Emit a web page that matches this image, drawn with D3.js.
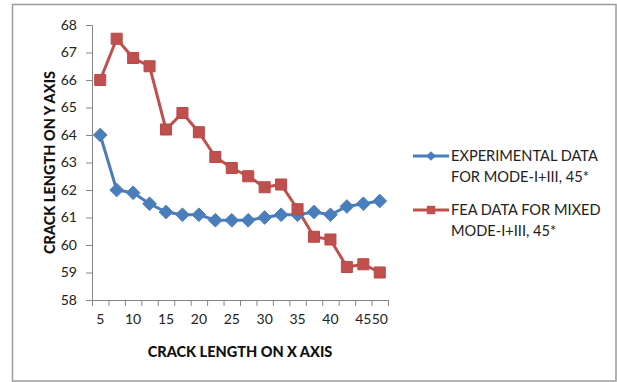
<!DOCTYPE html>
<html>
<head>
<meta charset="utf-8">
<script src="https://cdn.jsdelivr.net/npm/d3@7"></script>
<style>
  body { margin: 0; background: #fff; }
  svg { display: block; font-family: Lato, "Open Sans", sans-serif; }
</style>
</head>
<body>
<svg class="chart" width="617" height="382"></svg>
<script>
const tickLabels = ["5", "", "10", "", "15", "", "20", "", "25", "", "30", "", "35", "", "40", "", "45", "50"];
const experimental = [64, 62, 61.9, 61.5, 61.2, 61.1, 61.1, 60.9, 60.9, 60.9, 61.0, 61.1, 61.1, 61.2, 61.1, 61.4, 61.5, 61.6];
const fea = [66, 67.5, 66.8, 66.5, 64.2, 64.8, 64.1, 63.2, 62.8, 62.5, 62.1, 62.2, 61.3, 60.3, 60.2, 59.2, 59.3, 59.0];
const yTicks = [58, 59, 60, 61, 62, 63, 64, 65, 66, 67, 68];
const seriesNames = [
  ["EXPERIMENTAL DATA", "FOR MODE-I+III, 45*"],
  ["FEA DATA FOR MIXED", "MODE-I+III, 45*"]
];

const blue = "#4a7ebb";
const red = "#c0504d";
const axisColor = "#868686";

const svg = d3.select("svg.chart");

// outer frame
svg.append("rect")
  .attr("x", 12.5).attr("y", 4.5)
  .attr("width", 603.5).attr("height", 376.5)
  .attr("fill", "white")
  .attr("stroke", "#9a9a9a")
  .attr("stroke-width", 1.5);

const plot = { left: 92, right: 388, top: 25, bottom: 300 };

const x = d3.scaleBand()
  .domain(d3.range(tickLabels.length))
  .range([plot.left, plot.right]);
const xEdges = d3.scaleLinear()
  .domain([0, tickLabels.length])
  .range([plot.left, plot.right]);
const y = d3.scaleLinear().domain([58, 68]).range([plot.bottom, plot.top]);
const cx = (i) => x(i) + x.bandwidth() / 2;

// y axis
const yAxis = svg.append("g")
  .attr("transform", `translate(${plot.left},0)`)
  .call(d3.axisLeft(y).tickValues(yTicks).tickSize(6).tickPadding(9).tickFormat(d3.format("d")));
yAxis.select(".domain").attr("stroke", axisColor);
yAxis.selectAll(".tick line").attr("stroke", axisColor);
yAxis.selectAll("text")
  .attr("fill", "#222")
  .style("font-size", "14px")
  .style("font-family", "Lato, sans-serif");

// x axis: boundary ticks + labels centred on categories
const xTickAxis = svg.append("g")
  .attr("transform", `translate(0,${plot.bottom})`)
  .call(d3.axisBottom(xEdges).tickValues(d3.range(tickLabels.length + 1)).tickSize(6).tickFormat(""));
xTickAxis.select(".domain").attr("stroke", axisColor);
xTickAxis.selectAll(".tick line").attr("stroke", axisColor);

const xLabelAxis = svg.append("g")
  .attr("transform", `translate(0,${plot.bottom})`)
  .call(d3.axisBottom(x).tickSize(0).tickPadding(14).tickFormat((i) => tickLabels[i]));
xLabelAxis.select(".domain").remove();
xLabelAxis.selectAll("text")
  .attr("fill", "#222")
  .style("font-size", "14px")
  .style("font-family", "Lato, sans-serif");

// axis titles
svg.append("text")
  .attr("x", (plot.left + plot.right) / 2)
  .attr("y", 357)
  .attr("text-anchor", "middle")
  .attr("font-weight", 900)
  .attr("font-size", 14.5)
  .attr("fill", "#111")
  .text("CRACK LENGTH ON X AXIS");

svg.append("text")
  .attr("transform", `translate(55,${(plot.top + plot.bottom) / 2}) rotate(-90)`)
  .attr("text-anchor", "middle")
  .attr("font-weight", 900)
  .attr("font-size", 14.5)
  .attr("fill", "#111")
  .text("CRACK LENGTH ON Y AXIS");

// series
const line = d3.line().x((d, i) => cx(i)).y((d) => y(d));

svg.append("path")
  .datum(experimental)
  .attr("d", line)
  .attr("fill", "none")
  .attr("stroke", blue)
  .attr("stroke-width", 3);

svg.append("path")
  .datum(fea)
  .attr("d", line)
  .attr("fill", "none")
  .attr("stroke", red)
  .attr("stroke-width", 3);

const diamond = d3.symbol().type(d3.symbolDiamond2).size(120);
const square = d3.symbol().type(d3.symbolSquare2).size(155);

svg.selectAll("path.exp-marker")
  .data(experimental)
  .join("path")
  .attr("class", "exp-marker")
  .attr("d", diamond)
  .attr("transform", (d, i) => `translate(${cx(i)},${y(d)})`)
  .attr("fill", blue)
  .attr("stroke", blue)
  .attr("stroke-width", 1);

svg.selectAll("path.fea-marker")
  .data(fea)
  .join("path")
  .attr("class", "fea-marker")
  .attr("d", square)
  .attr("transform", (d, i) => `translate(${cx(i)},${y(d)})`)
  .attr("fill", red)
  .attr("stroke", "#b94a47")
  .attr("stroke-width", 1);

// legend
const legend = svg.append("g").attr("class", "legend");
const legendItems = [
  { color: blue, shape: d3.symbol().type(d3.symbolDiamond2).size(60), lines: seriesNames[0], y: 156 },
  { color: red, shape: d3.symbol().type(d3.symbolSquare2).size(90), lines: seriesNames[1], y: 210 }
];
legendItems.forEach((item) => {
  const g = legend.append("g");
  g.append("line")
    .attr("x1", 413).attr("x2", 449)
    .attr("y1", item.y).attr("y2", item.y)
    .attr("stroke", item.color)
    .attr("stroke-width", 3);
  g.append("path")
    .attr("d", item.shape())
    .attr("transform", `translate(431,${item.y})`)
    .attr("fill", item.color);
  item.lines.forEach((t, k) => {
    g.append("text")
      .attr("x", 451)
      .attr("y", item.y + k * 20.5 + 5)
      .attr("font-size", 14.6)
      .attr("fill", "#222")
      .text(t);
  });
});
</script>
</body>
</html>
